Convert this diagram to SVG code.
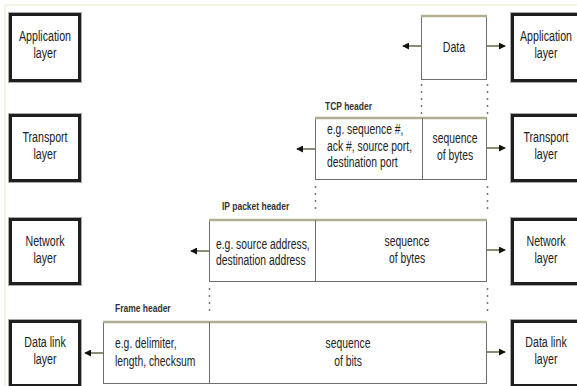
<svg xmlns="http://www.w3.org/2000/svg" width="577" height="386" viewBox="0 0 577 386">
<defs>
<style>
.t{font-family:"Liberation Sans",Arial,sans-serif;font-size:15px;fill:#222;text-anchor:middle}
.l{text-anchor:start}
.h{font-family:"Liberation Sans",Arial,sans-serif;font-size:10px;font-weight:bold;fill:#333}
.layer{fill:#fff;stroke:#1e1e1e;stroke-width:3}
.shadow{fill:none;stroke:#aaa;stroke-width:1}
.pkt{fill:#fff;stroke:#6e6e6e;stroke-width:1}
.top{stroke:#b3ae92;stroke-width:2.5}
.div{stroke:#6e6e6e;stroke-width:1}
.arr{stroke:#8f8b72;stroke-width:2;fill:none}
.dot{stroke:#777;stroke-width:1.5;stroke-dasharray:2 5;fill:none}
</style>
<marker id="ah" viewBox="0 0 8 8" refX="7" refY="4" markerWidth="7" markerHeight="7" markerUnits="userSpaceOnUse" orient="auto">
<path d="M0,0 L8,4 L0,8 z" fill="#111"/>
</marker>
</defs>
<rect width="577" height="386" fill="#fff"/>
<path d="M5,386 V5 H577" fill="none" stroke="#ebe7c6" stroke-width="1"/>

<g id="app-left">
<rect class="shadow" x="8.5" y="12.5" width="73" height="70"/>
<rect class="layer" x="10.5" y="14.5" width="69" height="66"/>
<text class="t" transform="translate(45,41) scale(0.71,1)">Application</text>
<text class="t" transform="translate(45,58) scale(0.71,1)">layer</text>
</g>
<g id="trans-left">
<rect class="shadow" x="8.5" y="113.5" width="73" height="69"/>
<rect class="layer" x="10.5" y="115.5" width="69" height="65"/>
<text class="t" transform="translate(45,142) scale(0.71,1)">Transport</text>
<text class="t" transform="translate(45,159) scale(0.71,1)">layer</text>
</g>
<g id="net-left">
<rect class="shadow" x="8.5" y="217.5" width="73" height="68"/>
<rect class="layer" x="10.5" y="219.5" width="69" height="64"/>
<text class="t" transform="translate(45,246) scale(0.71,1)">Network</text>
<text class="t" transform="translate(45,263) scale(0.71,1)">layer</text>
</g>
<g id="dl-left">
<rect class="shadow" x="8.5" y="319.5" width="73" height="68"/>
<rect class="layer" x="10.5" y="321.5" width="69" height="64"/>
<text class="t" transform="translate(45,347) scale(0.71,1)">Data link</text>
<text class="t" transform="translate(45,364) scale(0.71,1)">layer</text>
</g>

<g id="app-right">
<rect class="shadow" x="510.5" y="12.5" width="73" height="70"/>
<rect class="layer" x="512.5" y="14.5" width="69" height="66"/>
<text class="t" transform="translate(546,41) scale(0.71,1)">Application</text>
<text class="t" transform="translate(546,58) scale(0.71,1)">layer</text>
</g>
<g id="trans-right">
<rect class="shadow" x="510.5" y="113.5" width="73" height="69"/>
<rect class="layer" x="512.5" y="115.5" width="69" height="65"/>
<text class="t" transform="translate(546,142) scale(0.71,1)">Transport</text>
<text class="t" transform="translate(546,159) scale(0.71,1)">layer</text>
</g>
<g id="net-right">
<rect class="shadow" x="510.5" y="217.5" width="73" height="68"/>
<rect class="layer" x="512.5" y="219.5" width="69" height="64"/>
<text class="t" transform="translate(546,246) scale(0.71,1)">Network</text>
<text class="t" transform="translate(546,263) scale(0.71,1)">layer</text>
</g>
<g id="dl-right">
<rect class="shadow" x="510.5" y="319.5" width="73" height="68"/>
<rect class="layer" x="512.5" y="321.5" width="69" height="64"/>
<text class="t" transform="translate(546,347) scale(0.71,1)">Data link</text>
<text class="t" transform="translate(546,364) scale(0.71,1)">layer</text>
</g>

<g id="data">
<rect class="pkt" x="421.5" y="15.5" width="65" height="64"/>
<line class="top" x1="421" y1="16" x2="487" y2="16"/>
<text class="t" transform="translate(454,52) scale(0.71,1)">Data</text>
</g>

<g id="tcp">
<text class="h" transform="translate(325,110) scale(0.85,1)">TCP header</text>
<rect class="pkt" x="315.5" y="117.5" width="171" height="62"/>
<line class="top" x1="315" y1="118" x2="487" y2="118"/>
<line class="div" x1="422.5" y1="118" x2="422.5" y2="180"/>
<text class="t l" transform="translate(327,134) scale(0.69,1)">e.g. sequence #,</text>
<text class="t l" transform="translate(327,151) scale(0.69,1)">ack #, source port,</text>
<text class="t l" transform="translate(327,167) scale(0.69,1)">destination port</text>
<text class="t" transform="translate(455,143) scale(0.69,1)">sequence</text>
<text class="t" transform="translate(455,160) scale(0.69,1)">of bytes</text>
</g>

<g id="ip">
<text class="h" transform="translate(222,210) scale(0.85,1)">IP packet header</text>
<rect class="pkt" x="209.5" y="219.5" width="277" height="62"/>
<line class="top" x1="209" y1="220" x2="487" y2="220"/>
<line class="div" x1="315.5" y1="220" x2="315.5" y2="282"/>
<text class="t l" transform="translate(216,249) scale(0.69,1)">e.g. source address,</text>
<text class="t l" transform="translate(216,265) scale(0.69,1)">destination address</text>
<text class="t" transform="translate(407,246) scale(0.69,1)">sequence</text>
<text class="t" transform="translate(407,263) scale(0.69,1)">of bytes</text>
</g>

<g id="frame">
<text class="h" transform="translate(115,312) scale(0.85,1)">Frame header</text>
<rect class="pkt" x="103.5" y="321.5" width="383" height="62"/>
<line class="top" x1="103" y1="322" x2="487" y2="322"/>
<line class="div" x1="209.5" y1="322" x2="209.5" y2="384"/>
<text class="t l" transform="translate(115,348) scale(0.69,1)">e.g. delimiter,</text>
<text class="t l" transform="translate(115,366) scale(0.69,1)">length, checksum</text>
<text class="t" transform="translate(348,348) scale(0.69,1)">sequence</text>
<text class="t" transform="translate(348,366) scale(0.69,1)">of bits</text>
</g>

<g id="connectors">
<line class="arr" x1="421" y1="46" x2="403" y2="46" marker-end="url(#ah)"/>
<line class="arr" x1="487" y1="46" x2="505" y2="46" marker-end="url(#ah)"/>
<line class="arr" x1="315" y1="149" x2="297" y2="149" marker-end="url(#ah)"/>
<line class="arr" x1="487" y1="148" x2="505" y2="148" marker-end="url(#ah)"/>
<line class="arr" x1="209" y1="251" x2="191" y2="251" marker-end="url(#ah)"/>
<line class="arr" x1="487" y1="250" x2="505" y2="250" marker-end="url(#ah)"/>
<line class="arr" x1="103" y1="353" x2="85" y2="353" marker-end="url(#ah)"/>
<line class="arr" x1="487" y1="352" x2="505" y2="352" marker-end="url(#ah)"/>
<line class="dot" x1="421.5" y1="84" x2="421.5" y2="114"/>
<line class="dot" x1="487.5" y1="84" x2="487.5" y2="114"/>
<line class="dot" x1="315.5" y1="186" x2="315.5" y2="214"/>
<line class="dot" x1="487.5" y1="186" x2="487.5" y2="214"/>
<line class="dot" x1="209.5" y1="288" x2="209.5" y2="316"/>
<line class="dot" x1="487.5" y1="288" x2="487.5" y2="316"/>
</g>
</svg>
